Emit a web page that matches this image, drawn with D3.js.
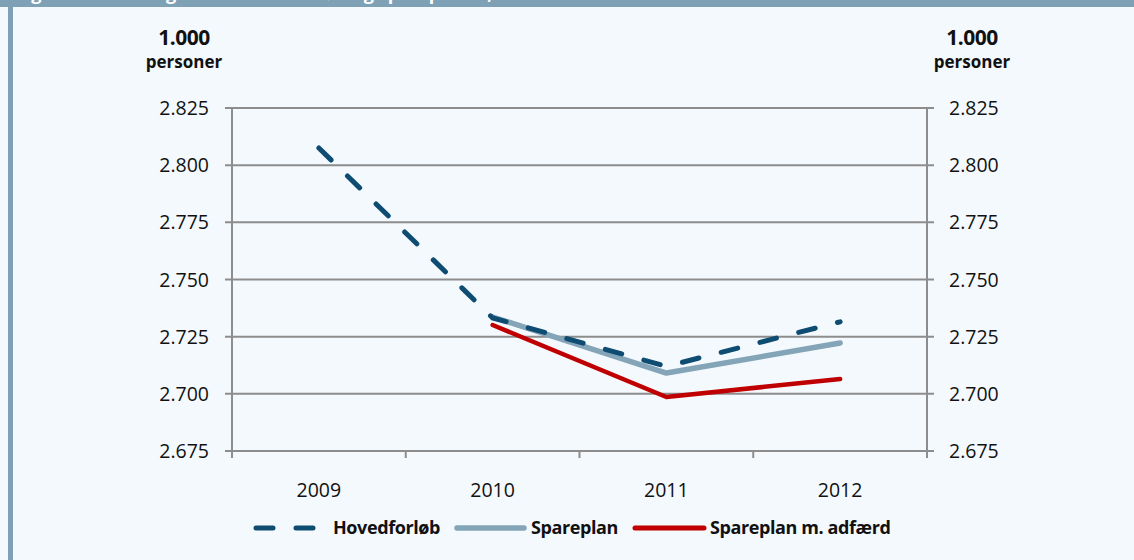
<!DOCTYPE html>
<html><head><meta charset="utf-8">
<script src="https://cdn.jsdelivr.net/npm/d3@7"></script>
<style>
html,body{margin:0;padding:0;background:#f4f9fd;}
svg{display:block;}
</style></head>
<body>
<svg id="c" width="1134" height="560"></svg>
<script>
const years = ["2009","2010","2011","2012"];
const hovedforlob = [2807.5, 2733.2, 2712.0, 2731.5];
const spareplan = [null, 2733.6, 2709.1, 2722.2];
const spareplanAdfaerd = [null, 2730.1, 2698.6, 2706.5];
const yTicks = [2675, 2700, 2725, 2750, 2775, 2800, 2825];
const seriesNames = ["Hovedforløb", "Spareplan", "Spareplan m. adfærd"];
const unitLabel = ["1.000", "personer"];
const titleText = "Figur 3. Beskæftigelsen i hovedforløb og spareplaner, 2009-2012";

const svg = d3.select("#c");
const W = 1134, H = 560;
const font = "'Open Sans', 'Noto Sans', sans-serif";
const loc = d3.formatLocale({decimal:",", thousands:".", grouping:[3], currency:["","kr"]});
const fmt = loc.format(",.0f");

svg.append("rect").attr("width",W).attr("height",H).attr("fill","#f4f9fd");
// title bar
svg.append("rect").attr("x",0).attr("y",0).attr("width",W).attr("height",7).attr("fill","#7fa1b5");
svg.append("rect").attr("x",8).attr("y",0).attr("width",5).attr("height",H).attr("fill","#7fa1b5");
svg.append("clipPath").attr("id","tc").append("rect").attr("x",0).attr("y",0).attr("width",W).attr("height",6);
svg.append("text").attr("clip-path","url(#tc)").attr("x",16).attr("y",-0.5)
  .attr("font-family",font).attr("font-weight","bold").attr("font-size",18).attr("fill","#ffffff").text(titleText);

const x = d3.scaleBand().domain(years).range([232, 927]).padding(0);
const y = d3.scaleLinear().domain([2675, 2825]).range([451, 108]);
const cx = d => x(d) + x.bandwidth()/2;

const gridC = "#8d8d8d";
// gridlines
svg.append("g").selectAll("line").data(yTicks).join("line")
  .attr("x1",225).attr("x2",934).attr("y1",d=>y(d)).attr("y2",d=>y(d))
  .attr("stroke",gridC).attr("stroke-width",2);
// axes verticals
[232, 927].forEach(xx=>{
  svg.append("line").attr("x1",xx).attr("x2",xx).attr("y1",y(2825)).attr("y2",y(2675)+1)
    .attr("stroke",gridC).attr("stroke-width",2);
});
// x ticks
const xb = years.map(d=>x(d)).concat([x.range()[1]]);
svg.append("g").selectAll("line").data(xb).join("line")
  .attr("x1",d=>d).attr("x2",d=>d).attr("y1",451).attr("y2",458)
  .attr("stroke",gridC).attr("stroke-width",2);

// y labels
svg.append("g").selectAll("text").data(yTicks).join("text")
  .attr("x",209).attr("y",d=>y(d)+7).attr("text-anchor","end")
  .attr("font-family",font).attr("font-size",19.5).attr("fill","#111").text(d=>fmt(d));
svg.append("g").selectAll("text").data(yTicks).join("text")
  .attr("x",949).attr("y",d=>y(d)+7).attr("text-anchor","start")
  .attr("font-family",font).attr("font-size",19.5).attr("fill","#111").text(d=>fmt(d));
// unit labels
[184, 972].forEach(ux=>{
  svg.append("text").attr("x",ux).attr("y",45).attr("text-anchor","middle")
    .attr("font-family",font).attr("font-weight","bold").attr("font-size",21).attr("letter-spacing",-0.5).attr("fill","#111").text(unitLabel[0]);
  svg.append("text").attr("x",ux).attr("y",68).attr("text-anchor","middle")
    .attr("font-family",font).attr("font-weight","bold").attr("font-size",17).attr("fill","#111").text(unitLabel[1]);
});
// x labels
svg.append("g").selectAll("text").data(years).join("text")
  .attr("x",d=>cx(d)).attr("y",497).attr("text-anchor","middle")
  .attr("font-family",font).attr("font-size",19.5).attr("fill","#111").text(d=>d);

const line = d3.line().defined(d=>d.v!=null).x(d=>cx(d.yr)).y(d=>y(d.v));
const mk = arr => years.map((yr,i)=>({yr, v:arr[i]}));
const colors = ["#0e4c72","#84a4b8","#c00000"];
svg.append("path").datum(mk(spareplan)).attr("d",line).attr("fill","none")
  .attr("stroke",colors[1]).attr("stroke-width",5.5).attr("stroke-linecap","round").attr("stroke-linejoin","round");
svg.append("path").datum(mk(spareplanAdfaerd)).attr("d",line).attr("fill","none")
  .attr("stroke",colors[2]).attr("stroke-width",4.5).attr("stroke-linecap","round").attr("stroke-linejoin","round");
svg.append("path").datum(mk(hovedforlob)).attr("d",line).attr("fill","none")
  .attr("stroke",colors[0]).attr("stroke-width",5).attr("stroke-linecap","round")
  .attr("stroke-dasharray","17,23");

// legend
const ly = 528;
const leg = [
  {x1:256, x2:318, tx:333, dash:"17,23", w:5},
  {x1:457, x2:524, tx:531, dash:null, w:5.5},
  {x1:635, x2:704, tx:710, dash:null, w:5}
];
leg.forEach((l,i)=>{
  svg.append("text").attr("x",l.tx).attr("y",ly+6).attr("font-family",font).attr("font-weight","bold")
    .attr("font-size",18).attr("fill","#111").attr("letter-spacing",-0.4).text(seriesNames[i]);
  svg.append("line").attr("x1",l.x1).attr("x2",l.x2).attr("y1",ly).attr("y2",ly)
    .attr("stroke",colors[i]).attr("stroke-width",l.w).attr("stroke-linecap","round")
    .attr("stroke-dasharray",l.dash);
});
</script>
</body></html>
